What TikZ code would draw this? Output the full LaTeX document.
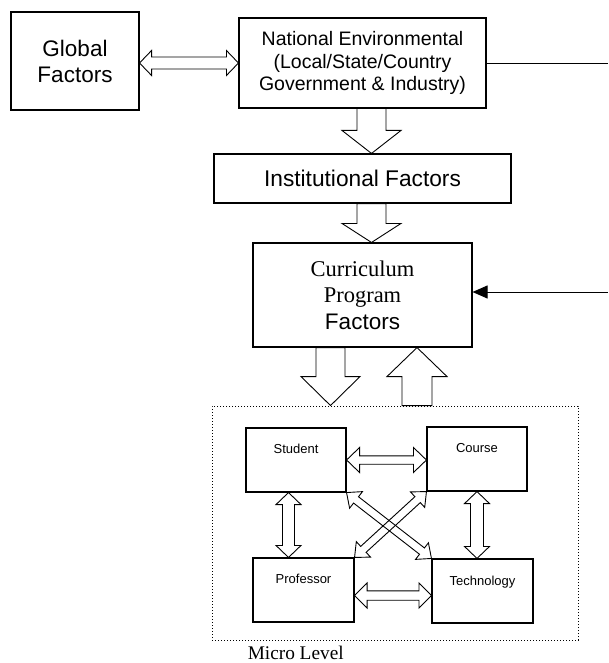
\documentclass[tikz,border=0pt]{standalone}
\usepackage{fontspec}
\setmainfont{Liberation Sans}
\newfontfamily\serifface{Liberation Serif}
\usetikzlibrary{calc,arrows.meta}
% hollow single-headed block arrow from #1 to #2 (tip at #2)
\newcommand\hollowsingle[5]{%
  \coordinate (hsH) at ($(#2)!#5!(#1)$);
  \draw[hollow] ($(#1)!#3!90:(#2)$) -- ($(hsH)!#3!90:(#2)$) -- ($(hsH)!#4!90:(#2)$) -- (#2)
    -- ($(hsH)!#4!-90:(#2)$) -- ($(hsH)!#3!-90:(#2)$) -- ($(#1)!#3!-90:(#2)$) -- cycle;}
% hollow double-headed block arrow between #1 and #2
\newcommand\hollowdouble[5]{%
  \coordinate (hdA) at ($(#1)!#5!(#2)$);
  \coordinate (hdB) at ($(#2)!#5!(#1)$);
  \draw[hollow] (#1) -- ($(hdA)!#4!90:(#2)$) -- ($(hdA)!#3!90:(#2)$) -- ($(hdB)!#3!90:(#2)$)
    -- ($(hdB)!#4!90:(#2)$) -- (#2) -- ($(hdB)!#4!-90:(#2)$) -- ($(hdB)!#3!-90:(#2)$)
    -- ($(hdA)!#3!-90:(#2)$) -- ($(hdA)!#4!-90:(#2)$) -- cycle;}
\begin{document}
\begin{tikzpicture}[x=1pt,y=-1pt,
  box/.style={draw, line width=1.1pt, rectangle, inner sep=0pt, align=center},
  hollow/.style={draw, line width=0.9pt, line join=miter},
  microlbl/.style={font=\fontsize{13}{15}\selectfont, inner sep=0pt, text height=9.3pt, text depth=0pt},
  thinline/.style={line width=0.9pt}]
\useasboundingbox (0,0) rectangle (608,663);
% main boxes
\node[box, minimum width=128pt, minimum height=98pt, font=\fontsize{22.5}{26}\selectfont] (global) at (75,61) {Global\\Factors};
\node[box, minimum width=247pt, minimum height=90pt, font=\fontsize{19.5}{22.5}\selectfont] (national) at (362.5,63) {National Environmental\\(Local/State/Country\\Government \& Industry)};
\node[box, minimum width=297pt, minimum height=49pt, font=\fontsize{22.7}{26}\selectfont] (inst) at (362.5,178.5) {Institutional Factors};
\node[box, minimum width=219pt, minimum height=104pt, font=\fontsize{22.5}{26.5}\selectfont] (curr) at (362.5,295) {{\serifface Curriculum}\\{\serifface Program}\\Factors};
% micro level
\node[draw, line width=0.9pt, dash pattern=on 1pt off 2pt, minimum width=366pt, minimum height=234pt, inner sep=0pt] (micro) at (395,523) {};
\node[box, minimum width=100pt, minimum height=64pt] (student) at (296,460) {};
\node[box, minimum width=100pt, minimum height=64pt] (course) at (477,459) {};
\node[box, minimum width=101pt, minimum height=64pt] (professor) at (303.5,590) {};
\node[box, minimum width=101pt, minimum height=64pt] (tech) at (482.5,591) {};
\node[microlbl] (studentlbl) at ([yshift=-21pt]student.north) {Student};
\node[microlbl] (courselbl) at ([yshift=-21pt]course.north) {Course};
\node[microlbl] (professorlbl) at ([yshift=-21pt]professor.north) {Professor};
\node[microlbl] (techlbl) at ([yshift=-22pt]tech.north) {Technology};
\node[anchor=base west, inner sep=0pt, font=\serifface\fontsize{19.3}{22}\selectfont] (microlevel) at ([xshift=36pt,yshift=-19pt]micro.south west) {Micro Level};
% connectors on the right
\coordinate (redge) at (607.5,0);
\draw[thinline] (national.east) -- (national.east -| redge);
\coordinate (rin) at (607.5,292);
\coordinate (rend) at (curr.east |- rin);
\draw[thinline, -{Triangle[length=15pt,width=13pt]}] (rin) -- (rend);
% global <-> national
\coordinate (gn1) at (global.east |- national.west);
\hollowdouble{gn1}{national.west}{6pt}{12.5pt}{12pt}
% vertical flow arrows
\coordinate (n1) at ([xshift=9pt]national.south);
\coordinate (n2) at (n1 |- inst.north);
\hollowsingle{n1}{n2}{14.5pt}{29.5pt}{23pt}
\coordinate (i1) at ([xshift=9pt]inst.south);
\coordinate (i2) at (i1 |- curr.north);
\hollowsingle{i1}{i2}{14.5pt}{29.5pt}{19pt}
\coordinate (c1) at ([xshift=-32pt]curr.south);
\coordinate (c2) at (c1 |- micro.north);
\hollowsingle{c1}{c2}{14.5pt}{29.5pt}{29pt}
\coordinate (u1) at ([xshift=22pt]micro.north);
\coordinate (u2) at (u1 |- curr.south);
\hollowsingle{u1}{u2}{15pt}{30pt}{29pt}
% micro-level arrows
\coordinate (sc2) at (course.west |- student.east);
\hollowdouble{student.east}{sc2}{4.2pt}{12.5pt}{13pt}
\coordinate (sp1) at ([xshift=-7.5pt]student.south);
\coordinate (sp2) at (sp1 |- professor.north);
\hollowdouble{sp1}{sp2}{6pt}{12.5pt}{12pt}
\coordinate (ct2) at (course.south |- tech.north);
\hollowdouble{course.south}{ct2}{6.5pt}{12.5pt}{12pt}
\coordinate (pt1) at ([yshift=-5.5pt]professor.east);
\coordinate (pt2) at (tech.west |- pt1);
\hollowdouble{pt1}{pt2}{4.7pt}{12.5pt}{12.5pt}
\hollowdouble{student.south east}{tech.north west}{4pt}{10.5pt}{12pt}
\hollowdouble{course.south west}{professor.north east}{4pt}{10.5pt}{12pt}
\end{tikzpicture}
\end{document}
